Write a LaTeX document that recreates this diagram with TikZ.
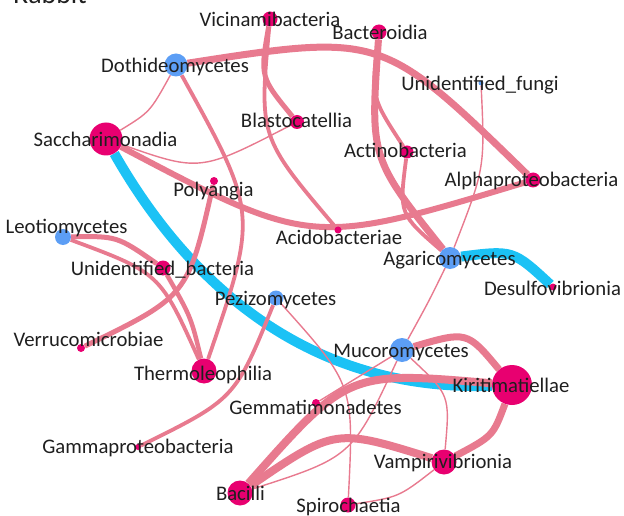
\documentclass[tikz,border=0pt]{standalone}
\usepackage{fontspec}
\setmainfont{Carlito}
\usetikzlibrary{backgrounds}
\definecolor{linkpink}{RGB}{232,122,143}
\definecolor{linkblue}{RGB}{27,194,245}
\definecolor{bactpink}{RGB}{232,0,112}
\definecolor{fungblue}{RGB}{92,158,245}
\tikzset{>=stealth}

\begin{document}
\begin{tikzpicture}[x=1bp, y=-1bp,
  bact/.style={circle, fill=bactpink, inner sep=0pt, minimum size=#1bp},
  fung/.style={circle, fill=fungblue, inner sep=0pt, minimum size=#1bp},
  lbl/.style={anchor=base, inner sep=0pt, text=black!88, font=\fontsize{20.8}{24}\selectfont},
  thinlink/.style={draw=linkpink, line width=1.4bp},
  midlink/.style={draw=linkpink, line width=3.8bp},
  thicklink/.style={draw=linkpink, line width=#1bp},
  bluelink/.style={draw=linkblue, line width=10bp}]
    \useasboundingbox (0,0) rectangle (624,516);
    \node[lbl, anchor=base west, font=\fontsize{28}{30}\selectfont] (title) at (13,4) {Rabbit};

    \node[bact=15] (vic) at (270,19) {};
    \node[bact=15] (bac) at (379,32) {};
    \node[fung=23] (dot) at (176,65) {};
    \node[fung=5]  (ufu) at (481,83) {};
    \node[bact=14] (bla) at (297,122) {};
    \node[bact=33] (sac) at (106,139) {};
    \node[bact=13] (act) at (407,152) {};
    \node[bact=8]  (pol) at (214,181) {};
    \node[bact=15] (alp) at (533,180) {};
    \node[fung=16] (leo) at (63,237) {};
    \node[bact=7]  (aci) at (338,230) {};
    \node[fung=22] (aga) at (450,258) {};
    \node[bact=15] (uba) at (163,268) {};
    \node[bact=7]  (des) at (553,287) {};
    \node[fung=15] (pez) at (276,298) {};
    \node[bact=8]  (ver) at (81,348) {};
    \node[fung=24] (muc) at (402,350) {};
    \node[bact=25] (the) at (204,371) {};
    \node[bact=40] (kir) at (512,385) {};
    \node[bact=8]  (gem) at (316,403) {};
    \node[bact=6]  (gam) at (138,447) {};
    \node[bact=25] (vam) at (444,462) {};
    \node[bact=25] (bci) at (240,493) {};
    \node[bact=15] (spi) at (348,505) {};

    \begin{scope}[on background layer]
    \draw[bluelink] (sac) .. controls (196,297) and (320,392) .. (kir);
    \draw[bluelink] (aga) .. controls (513,250) .. (des);
    \draw[thicklink=7] (dot) .. controls (382,33) .. (alp);
    \draw[thicklink=6] (sac) .. controls (311,247) .. (alp);
    \draw[thinlink] (dot) .. controls (150,112) .. (sac);
    \draw[thinlink] (sac) .. controls (200,172) .. (bla);
    \draw[thicklink=5] (vic) .. controls (260,77) .. (bla);
    \draw[midlink] (vic) .. controls (259,137) .. (aci);
    \draw[midlink] (dot) .. controls (258,213) .. (the);
    \draw[thicklink=7] (bac) .. controls (370,158) .. (aga);
    \draw[midlink] (bac) .. controls (371,97) .. (act);
    \draw[midlink] (act) .. controls (399,214) .. (aga);
    \draw[thinlink] (ufu) .. controls (485,168) .. (aga);
    \draw[thinlink] (aga) .. controls (429,301) .. (muc);
    \draw[thicklink=5] (leo) .. controls (117,236) .. (uba);
    \draw[midlink] (leo) .. controls (160,273) .. (the);
    \draw[thicklink=4.5] (uba) .. controls (191,317) .. (the);
    \draw[thicklink=5] (pol) .. controls (188,296) .. (ver);
    \draw[midlink] (pez) .. controls (235,399) .. (gam);
    \draw[thinlink] (pez) .. controls (354,385) .. (spi);
    \draw[thicklink=7] (muc) .. controls (467,331) .. (kir);
    \draw[thicklink=7] (kir) .. controls (493,436) .. (vam);
    \draw[thicklink=8] (kir) .. controls (348,371) .. (bci);
    \draw[thicklink=8] (vam) .. controls (335,428) .. (bci);
    \draw[thinlink] (muc) -- (gem);
    \draw[thinlink] (muc) .. controls (352,457) .. (bci);
    \draw[thinlink] (muc) .. controls (450,395) .. (vam);
    \draw[thinlink] (spi) .. controls (399,497) .. (vam);
    \end{scope}

    \node[lbl] (vic-l) at (270,27) {Vicinamibacteria};
    \node[lbl] (bac-l) at (380,40) {Bacteroidia};
    \node[lbl] (dot-l) at (175,73) {Dothideomycetes};
    \node[lbl] (ufu-l) at (480,91) {Unidentified\_fungi};
    \node[lbl] (bla-l) at (296.5,128) {Blastocatellia};
    \node[lbl] (sac-l) at (105.5,147) {Saccharimonadia};
    \node[lbl] (act-l) at (405.5,158) {Actinobacteria};
    \node[lbl] (pol-l) at (213.5,197) {Polyangia};
    \node[lbl] (alp-l) at (531.5,187) {Alphaproteobacteria};
    \node[lbl] (leo-l) at (66.5,234) {Leotiomycetes};
    \node[lbl] (aci-l) at (339,245) {Acidobacteriae};
    \node[lbl] (aga-l) at (449.5,265) {Agaricomycetes};
    \node[lbl] (uba-l) at (162.5,275) {Unidentified\_bacteria};
    \node[lbl] (des-l) at (552.5,295) {Desulfovibrionia};
    \node[lbl] (pez-l) at (275.5,305) {Pezizomycetes};
    \node[lbl] (ver-l) at (88.5,346.5) {Verrucomicrobiae};
    \node[lbl] (muc-l) at (401,357) {Mucoromycetes};
    \node[lbl] (the-l) at (203,380) {Thermoleophilia};
    \node[lbl] (kir-l) at (511,392) {Kiritimatiellae};
    \node[lbl] (gem-l) at (315.5,414) {Gemmatimonadetes};
    \node[lbl] (gam-l) at (138,453.5) {Gammaproteobacteria};
    \node[lbl] (vam-l) at (443,468) {Vampirivibrionia};
    \node[lbl] (bci-l) at (240.5,500) {Bacilli};
    \node[lbl] (spi-l) at (348.5,512) {Spirochaetia};
\end{tikzpicture}
\end{document}
